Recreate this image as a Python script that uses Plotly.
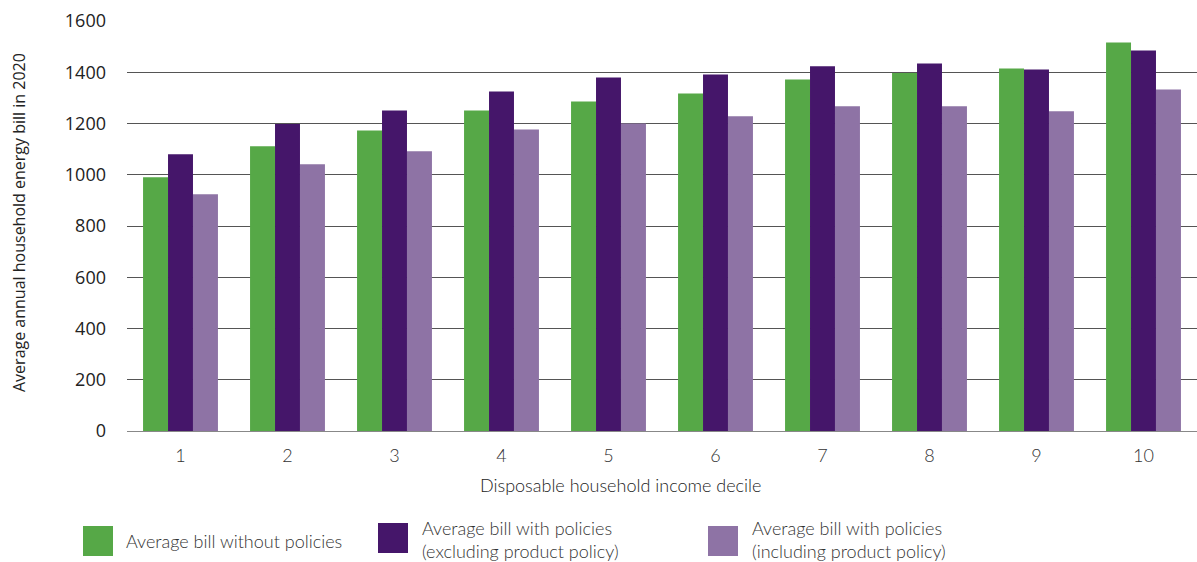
import plotly.graph_objects as go

deciles = ["1", "2", "3", "4", "5", "6", "7", "8", "9", "10"]
without_policies = [990, 1111, 1173, 1251, 1286, 1317, 1372, 1397, 1415, 1516]
with_excl_product = [1080, 1198, 1251, 1325, 1380, 1391, 1423, 1434, 1411, 1485]
with_incl_product = [924, 1041, 1092, 1177, 1200, 1228, 1267, 1267, 1248, 1333]

series_names = ["Average bill without policies",
                "Average bill with policies<br>(excluding product policy)",
                "Average bill with policies<br>(including product policy)"]
colors = ["#56A847", "#45166A", "#8E73A5"]
y_ticks = [0, 200, 400, 600, 800, 1000, 1200, 1400, 1600]

FONT = "Lato"
YFONT = "Open Sans"
TXT = "#333333"

fig = go.Figure()
for vals, name, col in zip([without_policies, with_excl_product, with_incl_product], series_names, colors):
    fig.add_trace(go.Bar(x=deciles, y=vals, name=name, marker=dict(color=col, line=dict(width=0)),
                         showlegend=False))

W, H = 1197, 562
L, R, T, B = 127, 0, 21, 131
pw, ph = W - L - R, H - T - B

def px_x(px):
    return (px - L) / pw

def px_y(py):
    return (H - B - py) / ph

# manual legend
legend_pos = [(83, 526), (378, 523), (708, 526)]
text_x = [124, 420, 750]
text_y = [541, 539, 539]
shapes = []
annotations = []
for (sx, sy), tx, ty, name, col in zip(legend_pos, text_x, text_y, series_names, colors):
    shapes.append(dict(type="rect", xref="paper", yref="paper",
                       x0=px_x(sx), x1=px_x(sx + 30), y0=px_y(sy + 30), y1=px_y(sy),
                       fillcolor=col, line=dict(width=0)))
    annotations.append(dict(text=name, xref="paper", yref="paper", x=px_x(tx), y=px_y(ty),
                            xanchor="left", yanchor="middle", showarrow=False, align="left",
                            font=dict(family=FONT, size=18, color=TXT, weight=300)))

annotations.append(dict(text="Disposable household income decile", xref="paper", yref="paper",
                        x=px_x(620), y=px_y(485), xanchor="center", yanchor="middle", showarrow=False,
                        font=dict(family=FONT, size=18, color="#222", weight=300)))
annotations.append(dict(text="Average annual household energy bill in 2020", xref="paper", yref="paper",
                        x=px_x(19), y=px_y(223), xanchor="center", yanchor="middle", showarrow=False,
                        textangle=-90, font=dict(family=YFONT, size=16, color="#222")))

fig.update_layout(
    width=W, height=H,
    margin=dict(l=L, r=R, t=T, b=B),
    plot_bgcolor="white", paper_bgcolor="white",
    barmode="group", bargap=0.3, bargroupgap=0,
    font=dict(family=FONT, size=15, color=TXT),
    shapes=shapes, annotations=annotations,
    xaxis=dict(showgrid=False, showline=True, linecolor="#888", linewidth=1,
               ticks="", ticklabelstandoff=8,
               tickfont=dict(family=FONT, size=18, color=TXT, weight=300)),
    yaxis=dict(range=[0, 1600], tickvals=y_ticks, showgrid=True, gridcolor="#555", gridwidth=1,
               zeroline=False, ticks="", ticklabelstandoff=20,
               tickfont=dict(family=YFONT, size=18, color="#222")),
)

fig.write_html("out.html")
